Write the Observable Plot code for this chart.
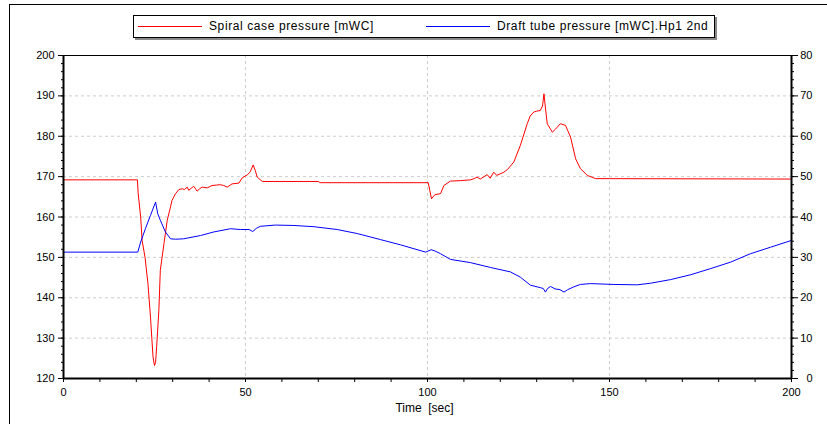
<!DOCTYPE html>
<html>
<head>
<meta charset="utf-8">
<script src="https://cdn.jsdelivr.net/npm/d3@7"></script>
<script src="https://cdn.jsdelivr.net/npm/@observablehq/plot@0.6"></script>
<style>
  html, body { margin: 0; padding: 0; background: #fff; }
  #wrap { position: relative; width: 827px; height: 424px; overflow: hidden; font-family: "Liberation Sans", Arial, sans-serif; }
  #frame { position: absolute; left: 9px; top: 4px; right: -2px; bottom: -2px; border-top: 1px solid #000; border-left: 1px solid #000; pointer-events: none; }
  #legend { position: absolute; left: 133px; top: 15px; width: 580px; height: 21px; border: 1px solid #000; background: #fff; box-shadow: 2px 2px 0 #8a8a8a; font-size: 12px; letter-spacing: 0.6px; color: #000; }
  .sw { position: absolute; top: 10px; width: 64px; height: 1px; }
  .lt { position: absolute; top: 3px; white-space: pre; }
</style>
</head>
<body>
<div id="wrap">
  <div id="chart"></div>
  <div id="frame"></div>
  <div id="legend"></div>
</div>
<script>
// ---- data ----
const seriesNames = ["Spiral case pressure [mWC]", "Draft tube pressure [mWC].Hp1 2nd"];
const seriesColors = ["#ff0000", "#0000ff"];

const spiralTime = [0, 20.3, 20.5, 21.2, 21.6, 22.4, 23.2, 23.9, 24.6, 25.0, 25.3, 25.6, 26.2, 26.6, 27.6, 28.5, 29.4, 29.8, 30.8, 31.7, 32.6, 33.2, 34.0, 34.4, 35.2, 35.8, 36.7, 37.4, 38.1, 39.5, 40.8, 42.0, 43.1, 44.0, 45.0, 46.3, 48.2, 49.1, 50.6, 51.3, 52.1, 52.7, 53.2, 54.6, 70.0, 70.5, 100.2, 101.1, 102.0, 103.6, 104.5, 106.3, 109.0, 111.8, 112.8, 113.6, 114.5, 116.4, 117.2, 118.2, 119.0, 121.0, 122.0, 123.7, 125.5, 127.4, 128.2, 129.2, 130.0, 131.0, 131.6, 132.0, 132.4, 132.9, 134.3, 135.2, 136.5, 137.9, 139.3, 140.7, 142.0, 143.9, 146.2, 150.0, 200.0];
const spiralValue = [169.2, 169.2, 166.0, 160.0, 154.2, 150.0, 143.5, 135.2, 125.3, 123.2, 124.0, 128.0, 136.9, 146.8, 153.4, 159.2, 162.5, 164.1, 165.8, 166.8, 167.0, 166.8, 167.4, 166.6, 167.2, 167.6, 166.4, 167.0, 167.4, 167.2, 167.8, 167.9, 168.0, 167.8, 167.4, 168.2, 168.4, 169.7, 170.5, 171.2, 172.9, 171.5, 169.9, 168.8, 168.8, 168.5, 168.5, 164.5, 165.5, 165.8, 167.8, 168.9, 169.0, 169.2, 169.5, 169.9, 169.4, 170.5, 169.6, 171.1, 170.3, 171.1, 171.8, 173.6, 177.7, 183.1, 185.0, 186.0, 186.2, 186.4, 187.5, 190.5, 187.0, 183.1, 181.0, 181.8, 183.1, 182.7, 179.8, 174.4, 172.0, 170.3, 169.5, 169.5, 169.4];

const draftTime = [0, 20.4, 21.2, 22.5, 23.9, 25.3, 25.9, 26.6, 28.0, 29.4, 30.8, 33.0, 37.6, 41.3, 45.9, 48.6, 51.0, 52.0, 53.0, 54.1, 58.2, 63.3, 68.8, 75.2, 80.7, 87.1, 92.6, 99.5, 101.0, 102.0, 103.6, 106.3, 111.8, 117.3, 122.8, 125.5, 128.3, 131.0, 131.8, 132.4, 133.0, 133.8, 135.0, 136.4, 137.5, 138.5, 140.2, 142.0, 144.8, 151.0, 157.6, 161.3, 166.8, 172.3, 177.7, 183.2, 188.7, 194.2, 200.0];
const draftValue = [31.3, 31.3, 33.8, 37.1, 40.4, 43.7, 40.8, 39.2, 36.3, 34.6, 34.5, 34.6, 35.4, 36.3, 37.1, 36.9, 36.9, 36.4, 37.2, 37.7, 38.0, 37.9, 37.6, 36.9, 35.9, 34.4, 33.1, 31.3, 31.9, 31.6, 30.9, 29.5, 28.7, 27.5, 26.4, 25.1, 23.1, 22.5, 22.3, 21.4, 22.3, 22.8, 22.2, 22.0, 21.4, 22.0, 22.7, 23.3, 23.5, 23.3, 23.2, 23.6, 24.5, 25.7, 27.2, 28.8, 30.9, 32.5, 34.2];

const xTickLabels = [0, 50, 100, 150, 200];
const xMinorTicks = d3.range(0, 201, 10);
const leftTickLabels = [120, 130, 140, 150, 160, 170, 180, 190, 200];
const rightTickLabels = [0, 10, 20, 30, 40, 50, 60, 70, 80];
const yMinorTicks = d3.range(120, 201, 2);
const xGrid = [50, 100, 150];
const yGrid = [130, 140, 150, 160, 170, 180, 190];
const xTitle = "Time\u00a0 [sec]";

// right axis (0..80) is drawn against left scale (120..200) via offset
const rightOffset = 120;

const spiral = spiralTime.map((t, i) => ({t, v: spiralValue[i]}));
const draft = draftTime.map((t, i) => ({t, v: draftValue[i] + rightOffset}));

const plot = Plot.plot({
  width: 827,
  height: 424,
  marginLeft: 63,
  marginRight: 36,
  marginTop: 55,
  marginBottom: 46,
  style: {background: "transparent", fontFamily: "'Liberation Sans', Arial, sans-serif", fontSize: "11px", color: "#000"},
  x: {domain: [0, 200]},
  y: {domain: [120, 200]},
  marks: [
    Plot.ruleX(xGrid, {stroke: "#cccccc", strokeDasharray: "3,3"}),
    Plot.ruleY(yGrid, {stroke: "#cccccc", strokeDasharray: "3,3"}),
    Plot.line(spiral, {x: "t", y: "v", stroke: seriesColors[0], strokeWidth: 1}),
    Plot.line(draft, {x: "t", y: "v", stroke: seriesColors[1], strokeWidth: 1}),
    Plot.ruleY([200], {stroke: "#000", strokeWidth: 1}),
    Plot.ruleY([120], {stroke: "#000", strokeWidth: 2}),
    Plot.ruleX([0], {stroke: "#000", strokeWidth: 2}),
    Plot.ruleX([200], {stroke: "#000", strokeWidth: 2}),
    Plot.axisX(xMinorTicks, {tickSize: 4, tickFormat: () => "", label: null}),
    Plot.axisX(xTickLabels, {tickSize: 4, tickPadding: 6, label: null}),
    Plot.text([xTitle], {frameAnchor: "bottom", dy: 33, dx: -3, fontSize: 12}),
    Plot.axisY(yMinorTicks, {anchor: "left", tickSize: 2, tickFormat: () => "", label: null}),
    Plot.axisY(leftTickLabels, {anchor: "left", tickSize: 5, tickPadding: 4, label: null}),
    Plot.axisY(yMinorTicks, {anchor: "right", tickSize: 2, tickFormat: () => "", label: null}),
    Plot.axisY(leftTickLabels, {anchor: "right", tickSize: 6, tickFormat: () => "", label: null}),
    Plot.text(rightTickLabels, {y: d => d + rightOffset, text: d => String(d), frameAnchor: "right", textAnchor: "end", dx: 21})
  ]
});
document.getElementById("chart").appendChild(plot);

// legend
const legend = document.getElementById("legend");
const legendPos = [{sw: 4, tx: 75}, {sw: 292, tx: 363}];
seriesNames.forEach((name, i) => {
  const sw = document.createElement("div");
  sw.className = "sw";
  sw.style.left = legendPos[i].sw + "px";
  sw.style.background = seriesColors[i];
  legend.appendChild(sw);
  const tx = document.createElement("div");
  tx.className = "lt";
  tx.style.left = legendPos[i].tx + "px";
  tx.textContent = name;
  legend.appendChild(tx);
});
</script>
</body>
</html>
